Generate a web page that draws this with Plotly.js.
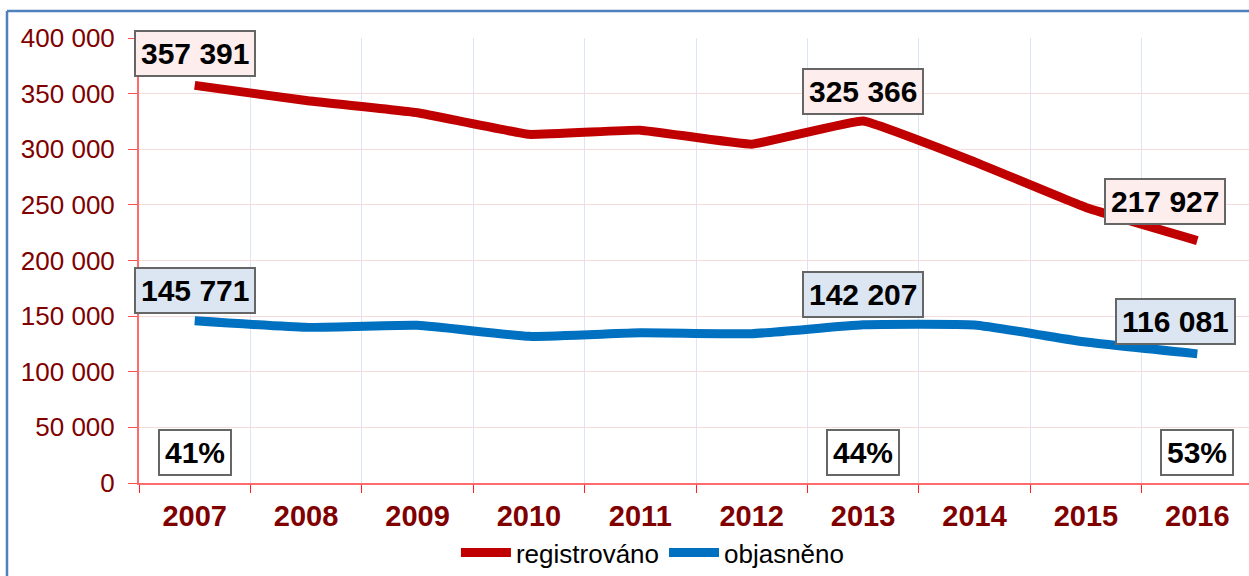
<!DOCTYPE html>
<html>
<head>
<meta charset="utf-8">
<script src="https://cdn.plot.ly/plotly-3.0.1.min.js"></script>
<style>
  html, body { margin: 0; padding: 0; background: #ffffff; }
  #chart { width: 1249px; height: 576px; }
</style>
</head>
<body>
<div id="chart"></div>
<script>
const years = ['2007','2008','2009','2010','2011','2012','2013','2014','2015','2016'];
const registrovano = [357391, 343799, 332829, 313387, 317177, 304528, 325366, 288660, 247628, 217927];
const objasneno = [145771, 139900, 141700, 131800, 135000, 134200, 142207, 142000, 126700, 116081];
const seriesNames = ['registrováno', 'objasněno'];
const labelIdx = [0, 6, 9];

const FONT = 'Liberation Sans, Arial, sans-serif';
function fmt(v) { return String(v).replace(/\B(?=(\d{3})+(?!\d))/g, ' '); }

const traces = [
  { x: years, y: registrovano, name: seriesNames[0], type: 'scatter', mode: 'lines',
    line: { color: '#C00000', width: 9, shape: 'spline', smoothing: 0.25 } },
  { x: years, y: objasneno, name: seriesNames[1], type: 'scatter', mode: 'lines',
    line: { color: '#0070C0', width: 9, shape: 'spline', smoothing: 0.4 } }
];

const redShift = [{ xs: 0, ys: 32 }, { xs: 0, ys: 30 }, { xs: -32, ys: 39 }];
const blueShift = [{ xs: 0, ys: 30 }, { xs: 0, ys: 30 }, { xs: -22, ys: 32 }];
const annotations = [];
const common = { showarrow: false, xanchor: 'center', yanchor: 'middle',
  bordercolor: '#666666', borderwidth: 2, borderpad: 5,
  font: { family: FONT, size: 30, color: '#000000' } };
labelIdx.forEach((i, k) => {
  annotations.push(Object.assign({}, common, {
    x: i, y: registrovano[i], xref: 'x', yref: 'y',
    text: '<b>' + fmt(registrovano[i]) + '</b>',
    xshift: redShift[k].xs, yshift: redShift[k].ys, bgcolor: '#FDEDEC'
  }));
  annotations.push(Object.assign({}, common, {
    x: i, y: objasneno[i], xref: 'x', yref: 'y',
    text: '<b>' + fmt(objasneno[i]) + '</b>',
    xshift: blueShift[k].xs, yshift: blueShift[k].ys, bgcolor: '#DCE6F2'
  }));
  annotations.push(Object.assign({}, common, {
    x: i, y: 0.0695, xref: 'x', yref: 'paper',
    text: '<b>' + Math.round(objasneno[i] / registrovano[i] * 100) + '%</b>',
    bgcolor: '#FFFFFF'
  }));
});

const L = 139, W = 1110, T = 38, H = 446;
const layout = {
  width: 1249, height: 576,
  margin: { l: L, r: 0, t: T, b: 576 - T - H, pad: 0 },
  paper_bgcolor: '#FFFFFF', plot_bgcolor: '#FFFFFF',
  separators: '. ',
  showlegend: true,
  legend: {
    orientation: 'h', x: 0.463, xanchor: 'center', y: -0.155, yanchor: 'middle',
    font: { family: FONT, size: 26, color: '#000000' },
    itemwidth: 50, tracegroupgap: 0, bgcolor: 'rgba(0,0,0,0)'
  },
  xaxis: {
    type: 'category', range: [-0.5, 9.464], tickson: 'boundaries',
    showgrid: true, gridcolor: '#DCE6F2', gridwidth: 1,
    showline: true, linecolor: '#FF6B6B', linewidth: 2,
    ticks: 'outside', ticklen: 8, tickcolor: '#FF2020', tickwidth: 1,
    tickfont: { family: FONT, size: 29, color: '#800000', weight: 'bold' },
    ticklabelstandoff: 6,
    fixedrange: true, zeroline: false
  },
  yaxis: {
    range: [0, 400000], dtick: 50000, tickformat: ',d',
    showgrid: true, gridcolor: '#F5DCDC', gridwidth: 1,
    showline: true, linecolor: '#FF6B6B', linewidth: 2,
    ticks: 'outside', ticklen: 9, tickcolor: '#FF5050', tickwidth: 1,
    tickfont: { family: FONT, size: 26, color: '#800000' },
    ticklabelstandoff: 8,
    zeroline: false, fixedrange: true
  },
  annotations: annotations,
  shapes: [
    { type: 'line', xref: 'paper', yref: 'paper',
      x0: (7 - L) / W, x1: 1.1, y0: (T + H - 11) / H, y1: (T + H - 11) / H,
      line: { color: '#4F81BD', width: 2.5 } },
    { type: 'line', xref: 'paper', yref: 'paper',
      x0: (7 - L) / W, x1: (7 - L) / W, y0: (T + H - 11) / H, y1: -0.3,
      line: { color: '#4F81BD', width: 2.5 } }
  ]
};

Plotly.newPlot('chart', traces, layout, { displayModeBar: false, staticPlot: true });
</script>
</body>
</html>
